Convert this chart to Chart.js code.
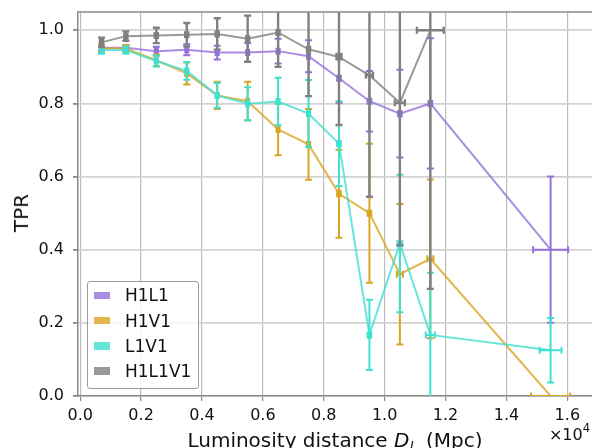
<!DOCTYPE html>
<html>
<head>
<meta charset="utf-8">
<script src="https://cdn.jsdelivr.net/npm/chart.js@4/dist/chart.umd.min.js"></script>
<style>
  body { margin: 0; background: #fff; }
  #wrap { position: relative; width: 592px; height: 448px; font-family: 'DejaVu Sans', sans-serif; color: #111; }
  #ylab { position: absolute; left: 21px; top: 213px; font-size: 20px; line-height: 20px; white-space: nowrap;
          transform: translate(-50%, -50%) rotate(-90deg); }
  #xlab { position: absolute; left: 78px; width: 514px; top: 429.6px; text-align: center; font-size: 20px; line-height: 20px; white-space: nowrap; }
  #xlab sub { font-size: 14px; line-height: 0; vertical-align: -5px; }
  #offset { position: absolute; right: 2px; top: 427.2px; font-size: 16px; line-height: 16px; white-space: nowrap; }
  #offset sup { font-size: 11.5px; line-height: 0; vertical-align: 8px; }
  #legend { position: absolute; left: 86.5px; top: 280.5px; width: 112.5px; height: 108px; box-sizing: border-box;
            border: 1.5px solid #9a9a9a; border-radius: 3px; background: rgba(255,255,255,0.8); }
  .item { position: absolute; left: 0; height: 25.2px; display: flex; align-items: center; font-size: 17px; white-space: nowrap; }
  .patch { width: 16px; height: 7.5px; margin-left: 6.5px; margin-right: 15px; }
</style>
</head>
<body>
<div id="wrap">
  <canvas id="chart" width="592" height="448"></canvas>
  <div id="ylab">TPR</div>
  <div id="xlab">Luminosity distance <i>D</i><sub><i>l</i></sub>&nbsp; (Mpc)</div>
  <div id="offset">×10<sup>4</sup></div>
  <div id="legend"></div>
</div>
<script>
// bin centres (Mpc)
const distances = [700, 1500, 2500, 3500, 4500, 5500, 6500, 7500, 8500, 9500, 10500, 11500, 15450];

// TPR per detector network, with errors
const h1l1    = [0.952, 0.952, 0.943, 0.947, 0.939, 0.939, 0.943, 0.929, 0.869, 0.806, 0.772, 0.800, 0.400];
const h1l1Err = [0.007, 0.008, 0.012, 0.015, 0.019, 0.026, 0.034, 0.044, 0.067, 0.083, 0.120, 0.178, 0.200];
const h1l1XErr = [50, 50, 50, 50, 50, 50, 50, 50, 60, 60, 60, 60, 575];

const h1v1    = [0.951, 0.950, 0.918, 0.882, 0.822, 0.806, 0.729, 0.688, 0.553, 0.500, 0.333, 0.375, 0.000];
const h1v1Err = [0.010, 0.010, 0.016, 0.030, 0.037, 0.053, 0.071, 0.097, 0.120, 0.190, 0.192, 0.217, 0.000];
const h1v1XErr = [50, 50, 50, 50, 50, 50, 50, 50, 60, 60, 100, 100, 640];

const l1v1    = [0.946, 0.946, 0.916, 0.889, 0.822, 0.799, 0.805, 0.772, 0.690, 0.167, 0.417, 0.167, 0.125];
const l1v1Err = [0.010, 0.010, 0.015, 0.024, 0.034, 0.045, 0.065, 0.092, 0.116, 0.096, 0.188, 0.170, 0.088];
const l1v1XErr = [50, 50, 50, 50, 50, 50, 50, 50, 60, 60, 80, 150, 360];

const h1l1v1    = [0.967, 0.984, 0.986, 0.988, 0.990, 0.977, 0.994, 0.948, 0.927, 0.877, 0.802, 1.000];
const h1l1v1Err = [0.013, 0.013, 0.021, 0.032, 0.043, 0.063, 0.094, 0.128, 0.186, 0.332, 0.390, 0.707];
const h1l1v1XErr = [50, 50, 50, 50, 50, 50, 50, 50, 80, 115, 165, 440];

const seriesNames = ['H1L1', 'H1V1', 'L1V1', 'H1L1V1'];
const xTicks = [0, 2000, 4000, 6000, 8000, 10000, 12000, 14000, 16000];
const yTicks = [0, 0.2, 0.4, 0.6, 0.8, 1.0];

const colors = ['147,112,219', '218,165,32', '64,224,208', '128,128,128'];

function points(vals, yErr, xErr) {
  return vals.map((v, i) => ({ x: distances[i], y: v, yErr: yErr[i], xErr: xErr[i] }));
}

const allData = [
  points(h1l1, h1l1Err, h1l1XErr),
  points(h1v1, h1v1Err, h1v1XErr),
  points(l1v1, l1v1Err, l1v1XErr),
  points(h1l1v1, h1l1v1Err, h1l1v1XErr)
];

const datasets = allData.map((d, i) => ({
  label: seriesNames[i],
  data: d,
  showLine: true,
  borderColor: 'rgba(' + colors[i] + ',0.8)',
  borderWidth: 2,
  pointRadius: 0,
  order: 3 - i,            // later series on top, like matplotlib
  errColor: 'rgb(' + colors[i] + ')',
  errWidth: i == 3 ? 2.4 : 2
}));

// error bars drawn right after each dataset line
const errorBars = {
  id: 'errorBars',
  afterDatasetDraw(chart, args) {
    const ds = chart.data.datasets[args.index];
    const xs = chart.scales.x, ys = chart.scales.y, a = chart.chartArea, ctx = chart.ctx;
    const cap = 3.5;
    ctx.save();
    ctx.beginPath();
    ctx.rect(a.left, a.top, a.right - a.left, a.bottom - a.top);
    ctx.clip();
    ctx.strokeStyle = ds.errColor;
    ctx.lineWidth = ds.errWidth;
    ds.data.forEach(p => {
      const px = xs.getPixelForValue(p.x), py = ys.getPixelForValue(p.y);
      ctx.beginPath();
      if (p.yErr > 0) {
        const y1 = ys.getPixelForValue(p.y + p.yErr), y2 = ys.getPixelForValue(p.y - p.yErr);
        ctx.moveTo(px, y1); ctx.lineTo(px, y2);
        ctx.moveTo(px - cap, y1); ctx.lineTo(px + cap, y1);
        ctx.moveTo(px - cap, y2); ctx.lineTo(px + cap, y2);
      }
      if (p.xErr > 0) {
        const x1 = xs.getPixelForValue(p.x - p.xErr), x2 = xs.getPixelForValue(p.x + p.xErr);
        ctx.moveTo(x1, py); ctx.lineTo(x2, py);
        ctx.moveTo(x1, py - cap); ctx.lineTo(x1, py + cap);
        ctx.moveTo(x2, py - cap); ctx.lineTo(x2, py + cap);
      }
      ctx.stroke();
    });
    ctx.restore();
  }
};

// top spine
const frame = {
  id: 'frame',
  afterDraw(chart) {
    const a = chart.chartArea, ctx = chart.ctx;
    ctx.save();
    ctx.strokeStyle = '#8a8a8a';
    ctx.lineWidth = 1.5;
    ctx.beginPath();
    ctx.moveTo(a.left, a.top); ctx.lineTo(a.right, a.top);
    ctx.stroke();
    ctx.restore();
  }
};

Chart.defaults.font.family = "'DejaVu Sans', sans-serif";
Chart.defaults.color = '#111';

new Chart(document.getElementById('chart'), {
  type: 'scatter',
  data: { datasets: datasets },
  options: {
    responsive: false,
    animation: false,
    devicePixelRatio: 1,
    layout: { padding: { top: 12, right: 0, left: 0, bottom: 0 } },
    plugins: { legend: { display: false }, tooltip: { enabled: false } },
    scales: {
      x: {
        type: 'linear',
        min: -72,
        max: 16810,
        afterBuildTicks: axis => { axis.ticks = xTicks.map(v => ({ value: v })); },
        afterFit: axis => { axis.height = 52; axis.paddingLeft = 0; axis.paddingRight = 0; },
        ticks: { font: { size: 16 }, padding: 5, autoSkip: false, maxRotation: 0,
                 callback: v => (v / 10000).toFixed(1) },
        grid: { color: '#bdbdbd', lineWidth: 1.2, tickColor: '#8a8a8a', tickLength: 5 },
        border: { color: '#8a8a8a', width: 1.5 }
      },
      y: {
        min: 0,
        max: 1.05,
        afterBuildTicks: axis => { axis.ticks = yTicks.map(v => ({ value: v })); },
        afterFit: axis => { axis.width = 78; axis.paddingTop = 0; axis.paddingBottom = 0; },
        ticks: { font: { size: 16 }, padding: 9, callback: v => v.toFixed(1) },
        grid: { color: '#d2d2d2', lineWidth: 1.8, tickColor: '#8a8a8a', tickLength: 5 },
        border: { color: '#8a8a8a', width: 1.5 }
      }
    }
  },
  plugins: [errorBars, frame]
});

// legend box
const legend = document.getElementById('legend');
seriesNames.forEach((name, i) => {
  const row = document.createElement('div');
  row.className = 'item';
  row.style.top = (1.3 + i * 25.2) + 'px';
  row.innerHTML = '<span class="patch" style="background:rgba(' + colors[i] + ',0.8)"></span>' + name;
  legend.appendChild(row);
});
</script>
</body>
</html>
